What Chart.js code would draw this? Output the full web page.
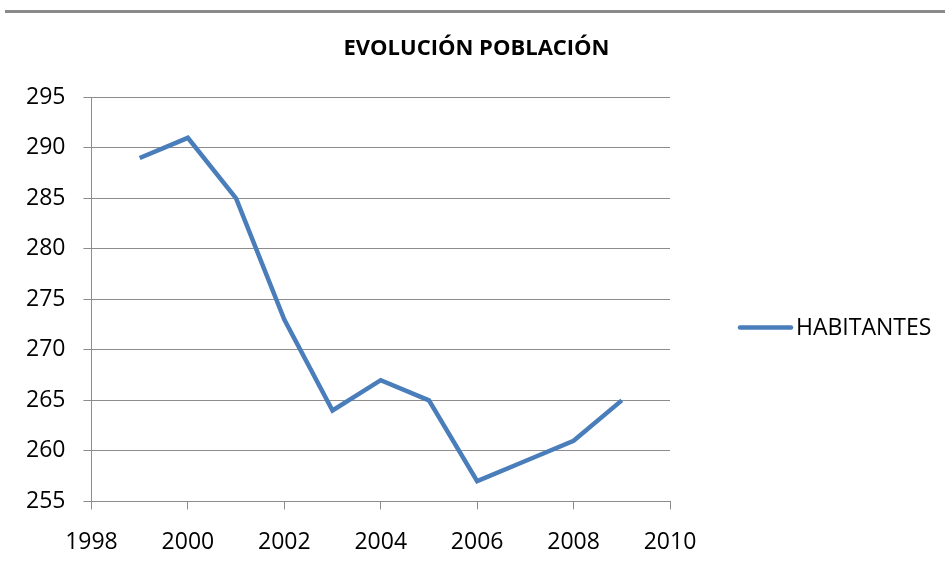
<!DOCTYPE html>
<html>
<head>
<meta charset="utf-8">
<script src="https://cdn.jsdelivr.net/npm/chart.js@4"></script>
<style>
    html, body { margin: 0; padding: 0; background: #fff; }
    .topline { position: absolute; left: 5px; right: 0; top: 10px; height: 3px; background: #8a8a8a; }
    .wrap { position: absolute; left: 0; top: 0; width: 945px; height: 579px; }
</style>
</head>
<body>
<div class="wrap"><canvas id="poblacionChart" width="945" height="579"></canvas></div>
<div class="topline"></div>
<script>
const years = [1999, 2000, 2001, 2002, 2003, 2004, 2005, 2006, 2007, 2008, 2009];
const habitantes = [289, 291, 285, 273, 264, 267, 265, 257, 259, 261, 265];
const seriesName = 'HABITANTES';
const chartTitle = 'EVOLUCIÓN POBLACIÓN';

const lineColor = '#4a7ebb';
const gridColor = '#8c8c8c';
const fontFamily = "'Open Sans', 'Liberation Sans', sans-serif";

// legend drawn to the right of the plot, the way the spreadsheet places it
const sideLegend = {
    id: 'sideLegend',
    afterDraw(chart) {
        const { ctx, chartArea } = chart;
        const ds = chart.data.datasets[0];
        const x = chartArea.right + 68;
        const y = (chartArea.top + chartArea.bottom) / 2 + 28;
        ctx.save();
        ctx.strokeStyle = ds.borderColor;
        ctx.lineWidth = 4.5;
        ctx.lineCap = 'round';
        ctx.beginPath();
        ctx.moveTo(x + 2, y);
        ctx.lineTo(x + 53, y);
        ctx.stroke();
        ctx.fillStyle = '#000';
        ctx.font = '23px ' + fontFamily;
        ctx.textBaseline = 'middle';
        ctx.textAlign = 'left';
        ctx.fillText(ds.label, x + 58, y + 1);
        ctx.restore();
    }
};

const ctx = document.getElementById('poblacionChart').getContext('2d');
new Chart(ctx, {
    type: 'line',
    data: {
        datasets: [{
            label: seriesName,
            data: years.map((y, i) => ({ x: y, y: habitantes[i] })),
            borderColor: lineColor,
            backgroundColor: lineColor,
            borderWidth: 4.5,
            pointRadius: 0,
            tension: 0,
            fill: false
        }]
    },
    options: {
        responsive: false,
        animation: false,
        layout: {
            padding: { left: 8, right: 0, top: 0, bottom: 4 }
        },
        plugins: {
            title: {
                display: true,
                text: chartTitle,
                color: '#000',
                font: { family: fontFamily, size: 22, weight: 'bold' },
                padding: { top: 36, bottom: 35 }
            },
            legend: { display: false },
            tooltip: { enabled: false }
        },
        scales: {
            x: {
                type: 'linear',
                min: 1998,
                max: 2010,
                ticks: {
                    stepSize: 2,
                    color: '#000',
                    font: { family: fontFamily, size: 23 },
                    padding: 19,
                    callback: v => String(v)
                },
                grid: {
                    drawOnChartArea: false,
                    color: gridColor,
                    tickLength: 8
                },
                border: { color: gridColor, width: 1 }
            },
            y: {
                min: 255,
                max: 295,
                ticks: {
                    stepSize: 5,
                    color: '#000',
                    font: { family: fontFamily, size: 23 },
                    padding: 18
                },
                grid: {
                    color: gridColor,
                    tickLength: 8
                },
                border: { color: gridColor, width: 1 }
            },
            // empty axis that just keeps room for the legend on the right
            legendSpace: {
                type: 'linear',
                position: 'right',
                min: 0,
                max: 1,
                ticks: { display: false },
                grid: { display: false },
                border: { display: false },
                afterFit: scale => { scale.width = 275; }
            }
        }
    },
    plugins: [sideLegend]
});
</script>
</body>
</html>
